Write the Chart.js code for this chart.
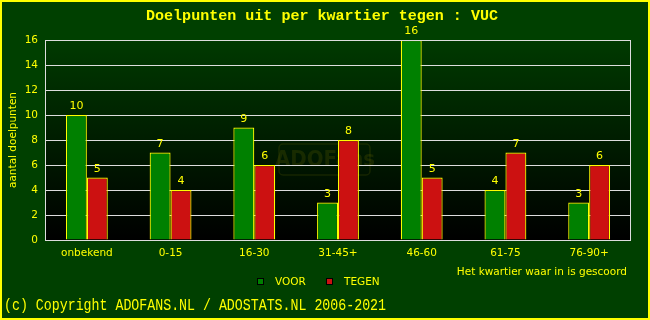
<!DOCTYPE html>
<html>
<head>
<meta charset="utf-8">
<script src="https://cdn.jsdelivr.net/npm/chart.js@4"></script>
<style>
html,body{margin:0;padding:0;background:#004000;}
canvas{display:block;}
</style>
</head>
<body>
<canvas id="c" width="650" height="320"></canvas>
<script>
const categories = ['onbekend','0-15','16-30','31-45+','46-60','61-75','76-90+'];
const voorValues = [10,7,9,3,16,4,3];
const tegenValues = [5,4,6,8,5,7,6];
const seriesNames = ['VOOR','TEGEN'];
const titleText = 'Doelpunten uit per kwartier tegen : VUC';
const yAxisTitle = 'aantal doelpunten';
const xAxisTitle = 'Het kwartier waar in is gescoord';
const copyrightText = '(c) Copyright ADOFANS.NL / ADOSTATS.NL 2006-2021';

const YELLOW = '#ffff00';
const SANS = '"DejaVu Sans", Verdana, sans-serif';
const MONO = '"Liberation Mono", "DejaVu Sans Mono", monospace';

function fitText(ctx, text, x, y, width) {
  const w = ctx.measureText(text).width;
  ctx.save();
  ctx.translate(x, y);
  ctx.scale(width / w, 1);
  ctx.textAlign = 'left';
  ctx.fillText(text, 0, 0);
  ctx.restore();
}

const deco = {
  id: 'deco',
  beforeDraw(chart) {
    const ctx = chart.ctx, a = chart.chartArea;
    ctx.save();
    ctx.fillStyle = '#004000';
    ctx.fillRect(0, 0, chart.width, chart.height);
    const g = ctx.createLinearGradient(0, a.top, 0, a.bottom);
    g.addColorStop(0, '#003a00');
    g.addColorStop(1, '#000000');
    ctx.fillStyle = g;
    ctx.fillRect(a.left, a.top, a.right - a.left, a.bottom - a.top);
    // watermark
    ctx.strokeStyle = 'rgba(110,110,0,0.2)';
    ctx.lineWidth = 1.5;
    ctx.beginPath();
    if (ctx.roundRect) ctx.roundRect(279, 144, 91, 31, 4); else ctx.rect(279, 144, 91, 31);
    ctx.stroke();
    ctx.fillStyle = 'rgba(110,110,0,0.22)';
    ctx.font = 'bold 22px "DejaVu Sans Condensed", "DejaVu Sans", sans-serif';
    ctx.textAlign = 'center';
    ctx.textBaseline = 'middle';
    ctx.fillText('ADOFans', 325, 160);
    ctx.restore();
  },
  afterDatasetsDraw(chart) {
    const ctx = chart.ctx, a = chart.chartArea;
    ctx.save();
    ctx.strokeStyle = '#dddddd';
    ctx.lineWidth = 1;
    ctx.strokeRect(a.left + 0.5, a.top + 0.5, a.right - a.left - 1, a.bottom - a.top);
    ctx.fillStyle = YELLOW;
    ctx.font = '11px ' + SANS;
    ctx.textAlign = 'center';
    ctx.textBaseline = 'bottom';
    chart.data.datasets.forEach((ds, i) => {
      chart.getDatasetMeta(i).data.forEach((bar, j) => {
        ctx.fillText(String(ds.data[j]), bar.x, bar.y - 3);
      });
    });
    ctx.restore();
  },
  afterDraw(chart) {
    const ctx = chart.ctx;
    ctx.save();
    ctx.fillStyle = YELLOW;
    ctx.textBaseline = 'alphabetic';
    ctx.font = 'bold 15px ' + MONO;
    fitText(ctx, titleText, 146, 20, 352);
    ctx.font = '16px ' + MONO;
    fitText(ctx, copyrightText, 4, 310, 382);
    // y axis title
    ctx.save();
    ctx.font = '10.5px ' + SANS;
    ctx.translate(13, 140);
    ctx.rotate(-Math.PI / 2);
    ctx.textAlign = 'center';
    ctx.textBaseline = 'middle';
    ctx.fillText(yAxisTitle, 0, 0);
    ctx.restore();
    // x axis title
    ctx.font = '10.5px ' + SANS;
    ctx.textAlign = 'right';
    ctx.textBaseline = 'middle';
    ctx.fillText(xAxisTitle, 627, 272);
    // legend
    const items = [[257, 275, chart.data.datasets[0]], [326, 344, chart.data.datasets[1]]];
    items.forEach(([bx, tx, ds]) => {
      ctx.fillStyle = ds.backgroundColor;
      ctx.fillRect(bx, 278, 7, 7);
      ctx.strokeStyle = '#000000';
      ctx.lineWidth = 1;
      ctx.strokeRect(bx + 0.5, 278.5, 6, 6);
      ctx.fillStyle = YELLOW;
      ctx.textAlign = 'left';
      ctx.fillText(ds.label, tx, 282);
    });
    ctx.strokeStyle = YELLOW;
    ctx.lineWidth = 2;
    ctx.strokeRect(1, 1, chart.width - 2, chart.height - 2);
    ctx.restore();
  }
};

new Chart(document.getElementById('c'), {
  type: 'bar',
  data: {
    labels: categories,
    datasets: [
      { label: seriesNames[0], data: voorValues, backgroundColor: '#008000', borderColor: YELLOW, borderWidth: 1.2, borderSkipped: 'bottom' },
      { label: seriesNames[1], data: tegenValues, backgroundColor: '#cc1111', borderColor: YELLOW, borderWidth: 1.2, borderSkipped: 'bottom' }
    ]
  },
  options: {
    responsive: false,
    animation: false,
    events: [],
    layout: { padding: { left: 0, top: 40, right: 19, bottom: 60 } },
    datasets: { bar: { categoryPercentage: 0.5, barPercentage: 1.0 } },
    plugins: { legend: { display: false }, title: { display: false }, tooltip: { enabled: false } },
    scales: {
      x: {
        afterFit(s) { s.height = 20; },
        grid: { display: false, drawTicks: false },
        border: { display: false },
        ticks: { color: YELLOW, font: { family: SANS, size: 10.5 }, padding: 7, maxRotation: 0 }
      },
      y: {
        min: 0, max: 16,
        afterFit(s) { s.width = 45; },
        grid: { color: '#dddddd', lineWidth: 1, drawTicks: false },
        border: { display: false },
        ticks: { color: YELLOW, font: { family: SANS, size: 10.5 }, stepSize: 2, padding: 7 }
      }
    }
  },
  plugins: [deco]
});
</script>
</body>
</html>
